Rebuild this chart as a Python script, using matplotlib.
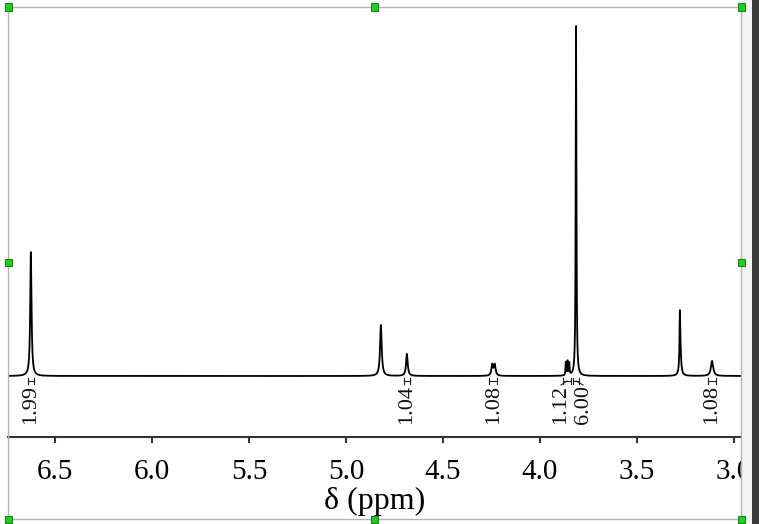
import numpy as np
import matplotlib
matplotlib.use("Agg")
import matplotlib.pyplot as plt
from matplotlib.patches import Rectangle

# ---- data ----
peak_ppm    = [6.624, 4.820, 4.686, 4.246, 4.233, 3.867, 3.858, 3.849, 3.814, 3.279, 3.277, 3.113]
peak_height = [124,   51,    22,    11,    11,    13,    14,    12,    351,   45,    24,    15]
peak_width  = [0.004, 0.005, 0.005, 0.005, 0.005, 0.0018, 0.0018, 0.0018, 0.0022, 0.002, 0.005, 0.007]

integ_start = [6.640, 4.700, 4.262, 3.880, 3.828, 3.132]
integ_end   = [6.610, 4.672, 4.220, 3.840, 3.800, 3.092]
integ_label = ["1.99", "1.04", "1.08", "1.12", "6.00", "1.08"]
label_ppm   = [6.628, 4.688, 4.240, 3.892, 3.778, 3.113]

xticks = [6.5, 6.0, 5.5, 5.0, 4.5, 4.0, 3.5, 3.0]
x_min, x_max = 2.964, 6.742

W, H = 759, 524
fig = plt.figure(figsize=(W / 100, H / 100), dpi=100)
fig.patch.set_facecolor("white")
SERIF = ["Liberation Serif", "DejaVu Serif"]

def fx(px):
    return px / W

def fy(py):
    return 1 - py / H

ax = fig.add_axes([fx(8), fy(437), fx(741) - fx(8), fy(7) - fy(437)])
ax.set_facecolor("none")

x = np.linspace(x_min, x_max, 12000)
y = np.zeros_like(x)
for p, h, g in zip(peak_ppm, peak_height, peak_width):
    y += h * g**2 / ((x - p)**2 + g**2)
ax.plot(x, y, color="black", lw=1.3)

# integration brackets and labels
by = -5
for s, e, lab, lp in zip(integ_start, integ_end, integ_label, label_ppm):
    ax.plot([s, e], [by, by], color="#222222", lw=0.8)
    ax.plot([s, s], [by - 3, by + 3], color="#222222", lw=0.8)
    ax.plot([e, e], [by - 3, by + 3], color="#222222", lw=0.8)
    c = (s + e) / 2
    if abs(c - lp) > 0.01:
        ax.plot([c, lp], [by, by - 4], color="#222222", lw=0.8)
    ax.text(lp, -9, lab, rotation=90, ha="center", va="top",
            fontsize=16, family=SERIF, color="#111111")

ax.set_xlim(x_max, x_min)
ax.set_ylim(-61, 369)
for sp in ["top", "left", "right"]:
    ax.spines[sp].set_visible(False)
ax.spines["bottom"].set_color("#333333")
ax.spines["bottom"].set_linewidth(1.5)
ax.set_yticks([])
ax.set_xticks(xticks)
ax.set_xticklabels([f"{t:.1f}" for t in xticks], family=SERIF, fontsize=21)
ax.tick_params(axis="x", direction="out", length=4, width=1.5, color="#333333", pad=12)
ax.set_xlabel("δ (ppm)", family=SERIF, fontsize=23, labelpad=1)

# clip the right tick label at the frame
fig.patches.append(Rectangle((fx(742), 0), fx(752) - fx(742), 1, transform=fig.transFigure,
                             facecolor="#f4f4f4", edgecolor="none", zorder=5))
fig.patches.append(Rectangle((fx(752), 0), 1 - fx(752), 1, transform=fig.transFigure,
                             facecolor="#3c3c3c", edgecolor="none", zorder=5))
# selection frame
fig.patches.append(Rectangle((fx(8), fy(519)), fx(741) - fx(8), fy(7) - fy(519),
                             transform=fig.transFigure, facecolor="none",
                             edgecolor="#b4b4b4", lw=1.0, zorder=6))
for hx in (8, 374, 741):
    for hy in (7, 263, 519):
        if hx == 374 and hy == 263:
            continue
        fig.patches.append(Rectangle((fx(hx - 3.5), fy(hy + 3.5)), 7 / W, 7 / H,
                                     transform=fig.transFigure, facecolor="#22cc22",
                                     edgecolor="#138813", lw=0.8, zorder=7))

fig.savefig("out.png", dpi=100)
